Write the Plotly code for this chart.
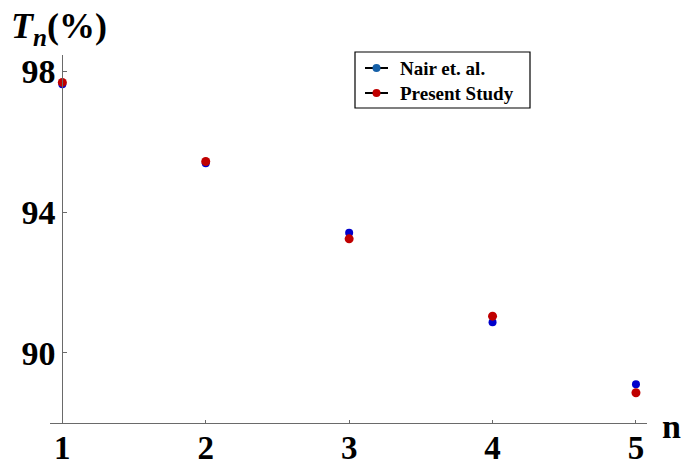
import plotly.graph_objects as go

# Transmission coefficient T_n (%) versus index n
n_values = [1, 2, 3, 4, 5]
nair_et_al = [97.64, 95.39, 93.41, 90.87, 89.10]
present_study = [97.69, 95.44, 93.24, 91.04, 88.86]

y_ticks = [90, 94, 98]
x_ticks = [1, 2, 3, 4, 5]

series_names = ["Nair et. al.", "Present Study"]

SERIF = "Liberation Serif, Times New Roman, serif"
BLUE_PT, RED_PT = "#0000cc", "#c00000"
LEGEND_COLORS = ["#1560a8", "#c00000"]
AXIS = "#6a6a6a"

W, H = 681, 467
L, R, T, B = 50, 34, 55, 44
X_RANGE = [0.914, 5.077]
Y_RANGE = [88.0, 98.47]
PW, PH = W - L - R, H - T - B


def px(x):
    """page pixel x -> paper x"""
    return (x - L) / PW


def py(y):
    """page pixel y (from top) -> paper y"""
    return (H - B - y) / PH


# y axis sits at n = 1, inside the plotted range
y_axis_pos = (1 - X_RANGE[0]) / (X_RANGE[1] - X_RANGE[0])

fig = go.Figure()

fig.add_trace(go.Scatter(
    x=n_values, y=nair_et_al, mode="markers", name=series_names[0],
    marker=dict(color=BLUE_PT, size=8)))
fig.add_trace(go.Scatter(
    x=n_values, y=present_study, mode="markers", name=series_names[1],
    marker=dict(color=RED_PT, size=9)))

# boxed key in the upper right
shapes = [dict(type="rect", xref="paper", yref="paper",
               x0=px(355), x1=px(530), y0=py(52), y1=py(108),
               line=dict(color="black", width=1.2), fillcolor="white", layer="below")]
annotations = []
for i, (name, col) in enumerate(zip(series_names, LEGEND_COLORS)):
    yc = 68 + 25 * i
    shapes.append(dict(type="line", xref="paper", yref="paper",
                       x0=px(365), x1=px(388), y0=py(yc), y1=py(yc),
                       line=dict(color="black", width=2)))
    shapes.append(dict(type="circle", xref="paper", yref="paper",
                       x0=px(372.5), x1=px(380.5), y0=py(yc + 4), y1=py(yc - 4),
                       line=dict(color=col, width=0), fillcolor=col))
    annotations.append(dict(text=f"<b>{name}</b>", xref="paper", yref="paper",
                            x=px(398), y=py(yc), xanchor="left", yanchor="middle",
                            showarrow=False,
                            font=dict(family=SERIF, size=19, color="black")))

annotations += [
    dict(text="<b><i>T</i></b><sub><b><i>n</i></b></sub><b>(%)</b>",
         xref="paper", yref="paper", x=px(9), y=py(4),
         xanchor="left", yanchor="top", showarrow=False,
         font=dict(family=SERIF, size=36, color="black")),
    dict(text="<b>n</b>", xref="paper", yref="paper", x=px(660), y=py(406),
         xanchor="left", yanchor="top", showarrow=False,
         font=dict(family=SERIF, size=34, color="black")),
]

fig.update_layout(
    width=W, height=H, showlegend=False,
    margin=dict(l=L, r=R, t=T, b=B, pad=0, autoexpand=False),
    paper_bgcolor="white", plot_bgcolor="white",
    font=dict(family=SERIF, color="black"),
    xaxis=dict(
        range=X_RANGE, tickvals=x_ticks, ticktext=[f"<b>{v}</b>" for v in x_ticks],
        automargin=False, ticklabelstandoff=-5,
        showgrid=False, zeroline=False, showline=True, linecolor=AXIS, linewidth=1,
        ticks="inside", ticklen=3, tickcolor=AXIS,
        tickfont=dict(family=SERIF, size=33, color="black"),
    ),
    yaxis=dict(
        range=Y_RANGE, tickvals=y_ticks, ticktext=[f"<b>{v}</b>" for v in y_ticks],
        anchor="free", position=y_axis_pos, automargin=False,
        showgrid=False, zeroline=False, showline=True, linecolor=AXIS, linewidth=1,
        ticks="inside", ticklen=4, tickcolor=AXIS,
        tickfont=dict(family=SERIF, size=34, color="black"),
    ),
    shapes=shapes,
    annotations=annotations,
)

fig.write_html("out.html")
